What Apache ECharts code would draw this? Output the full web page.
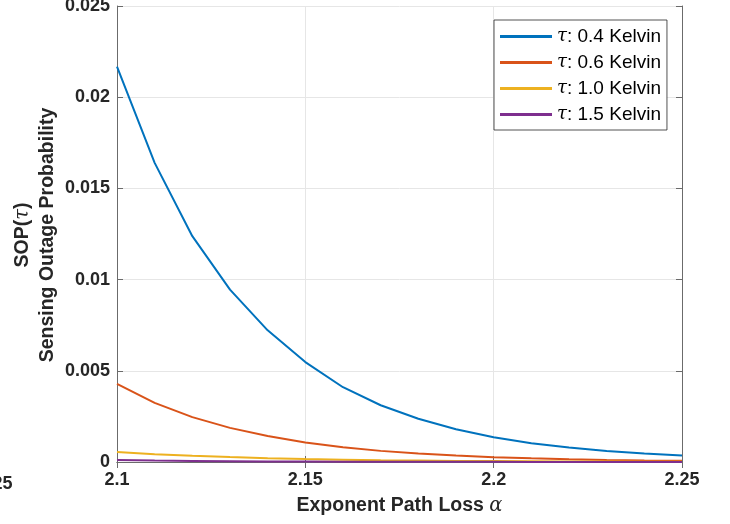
<!DOCTYPE html>
<html>
<head>
<meta charset="utf-8">
<script src="https://cdn.jsdelivr.net/npm/echarts@6/dist/echarts.min.js"></script>
<style>html,body{margin:0;padding:0;background:#fff}#c{width:730px;height:524px}</style>
</head>
<body>
<div id="c"></div>
<script>
const alphas = [2.10,2.11,2.12,2.13,2.14,2.15,2.16,2.17,2.18,2.19,2.20,2.21,2.22,2.23,2.24,2.25];
const sop04 = [0.02167,0.01640,0.01238,0.00945,0.00722,0.00548,0.00410,0.00311,0.00237,0.00180,0.00136,0.00103,0.00079,0.00060,0.00047,0.00035];
const sop06 = [0.00428,0.00324,0.00246,0.00187,0.00143,0.00107,0.00081,0.00061,0.00046,0.00035,0.00026,0.00020,0.00015,0.00011,0.000085,0.000065];
const sop10 = [0.00055,0.00043,0.00034,0.00027,0.00021,0.00016,0.00013,0.00010,0.00008,0.00006,0.00005,0.00004,0.00003,0.000023,0.000018,0.000014];
const sop15 = [0.00011,0.00008,0.00006,0.000045,0.000034,0.000026,0.00002,0.000015,0.000012,0.000009,0.000007,0.000005,0.000004,0.000003,0.000002,0.000002];
const seriesNames = ['{t|τ}: 0.4 Kelvin','{t|τ}: 0.6 Kelvin','{t|τ}: 1.0 Kelvin','{t|τ}: 1.5 Kelvin'];
const seriesValues = [sop04, sop06, sop10, sop15];
const colors = ['#0072BD','#D95319','#EDB120','#7E2F8E'];
const yTitle = '{n|SOP(}{t|τ}{n|)}\n{n|Sensing Outage Probability}';
const xTitle = 'Exponent Path Loss {a|α}';

const chart = echarts.init(document.getElementById('c'), null, {renderer:'canvas'});
const axisCol = '#262626';
const lineCol = '#6b6b6b';
const font = 'Liberation Sans, Arial, Helvetica, sans-serif';
const serif = 'DejaVu Serif, Liberation Serif, serif';
const commonTick = {show:true,inside:true,length:6,lineStyle:{color:lineCol}};
chart.setOption({
  animation:false,
  color: colors,
  grid:{left:117,right:48,top:6,bottom:62,show:false,containLabel:false,outerBoundsMode:'none'},
  legend:{
    left:494, top:20, orient:'vertical',
    backgroundColor:'#fff', borderColor:axisCol, borderWidth:0.8,
    padding:[7,6,6,6], itemGap:7, itemWidth:52, itemHeight:3, icon:'rect',
    textStyle:{fontFamily:font,fontSize:19,lineHeight:19,color:'#000',
      rich:{t:{fontFamily:serif,fontStyle:'italic',fontWeight:'normal',fontSize:18,lineHeight:19,color:'#000'}}}
  },
  xAxis:[{
    type:'value', min:2.1, max:2.25, interval:0.05,
    name:xTitle, nameLocation:'middle', nameGap:34,
    nameTextStyle:{fontFamily:font,fontSize:19.5,fontWeight:'bold',color:axisCol,
      rich:{a:{fontFamily:serif,fontStyle:'italic',fontWeight:'normal',fontSize:19.5,color:axisCol}}},
    axisLine:{show:true,lineStyle:{color:lineCol,width:1}},
    axisTick:commonTick,
    axisLabel:{fontFamily:font,fontSize:18,fontWeight:'bold',color:axisCol,margin:9,
      formatter:v=>String(+v.toFixed(2))},
    splitLine:{show:true,lineStyle:{color:'#e6e6e6',width:1}}
  },{
    type:'value', position:'top', min:2.1, max:2.25, interval:0.05,
    axisLine:{show:true,lineStyle:{color:lineCol,width:1}},
    axisTick:commonTick, axisLabel:{show:false}, splitLine:{show:false}
  }],
  yAxis:[{
    type:'value', min:0, max:0.025, interval:0.005,
    axisLine:{show:true,lineStyle:{color:lineCol,width:1}},
    axisTick:commonTick,
    axisLabel:{fontFamily:font,fontSize:18,fontWeight:'bold',color:axisCol,margin:7,
      formatter:v=>String(+v.toFixed(3))},
    splitLine:{show:true,lineStyle:{color:'#e6e6e6',width:1}}
  },{
    type:'value', position:'right', min:0, max:0.025, interval:0.005,
    axisLine:{show:true,lineStyle:{color:lineCol,width:1}},
    axisTick:commonTick, axisLabel:{show:false}, splitLine:{show:false}
  }],
  graphic:[
    {type:'text',x:35,y:235,rotation:Math.PI/2,
     style:{text:yTitle,align:'center',verticalAlign:'middle',
       font:'bold 19.5px '+font,fill:axisCol,lineHeight:25,
       rich:{n:{fontFamily:font,fontSize:19.5,fontWeight:'bold',fill:axisCol,lineHeight:25},
             t:{fontFamily:serif,fontStyle:'italic',fontWeight:'normal',fontSize:19.5,fill:axisCol,lineHeight:25}}}},
    {type:'text',x:-7.5,y:484,style:{text:'25',font:'bold 18px '+font,fill:axisCol,verticalAlign:'middle'}}
  ],
  series: seriesValues.map((vals,i)=>({
    name:seriesNames[i], type:'line', showSymbol:false, symbol:'none',
    lineStyle:{width:2,color:colors[i]}, itemStyle:{color:colors[i]},
    data: alphas.map((a,j)=>[a, vals[j]])
  }))
});
</script>
</body>
</html>
